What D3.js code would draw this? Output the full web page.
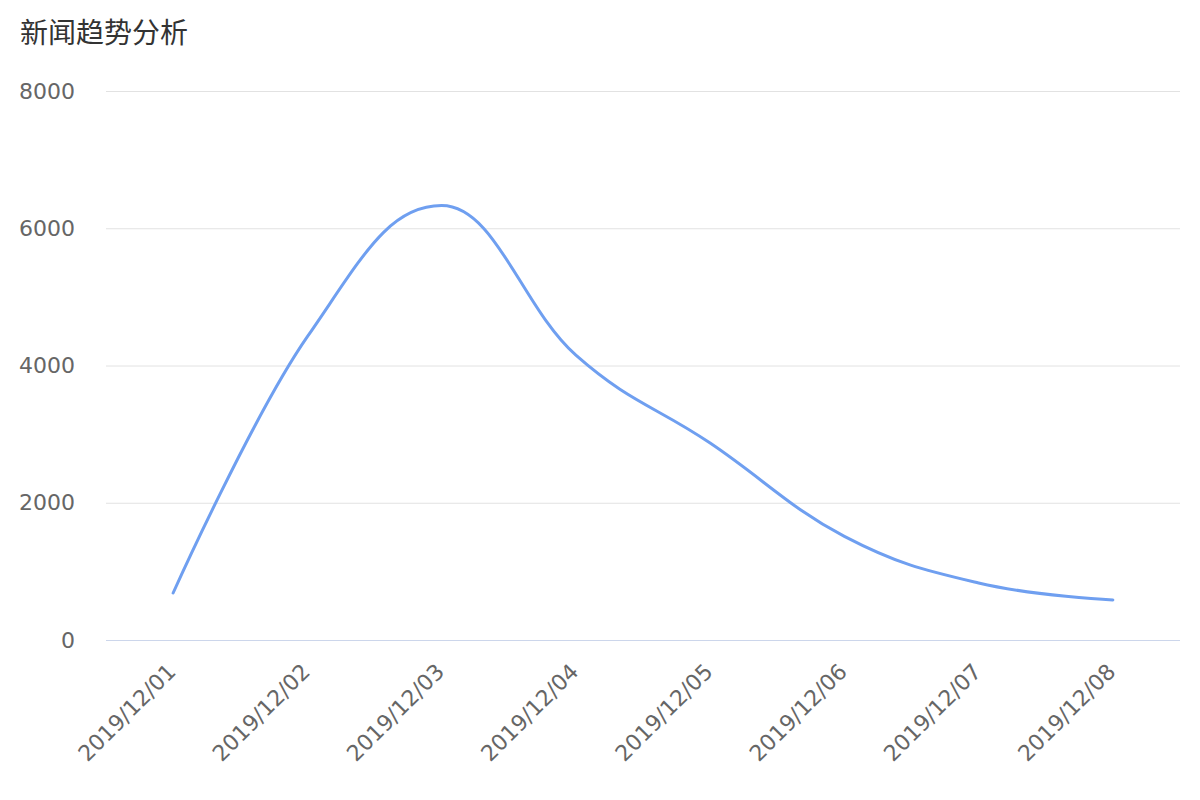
<!DOCTYPE html>
<html>
<head>
<meta charset="utf-8">
<script src="https://cdn.jsdelivr.net/npm/d3@7"></script>
<style>
  html, body { margin: 0; padding: 0; background: #ffffff; }
  svg { display: block; }
</style>
</head>
<body>
<svg id="chart" width="1200" height="800"></svg>
<script>
const titleText = "新闻趋势分析";
const categories = ["2019/12/01", "2019/12/02", "2019/12/03", "2019/12/04", "2019/12/05", "2019/12/06", "2019/12/07", "2019/12/08"];
const newsValues = [685, 4420, 6330, 4150, 2870, 1510, 830, 583];
const yTicks = [0, 2000, 4000, 6000, 8000];

const W = 1200, H = 800;
const margin = { left: 106, right: 20, top: 91, bottom: 160 };
const svg = d3.select("#chart");
const labelFont = "'DejaVu Sans', 'Noto Sans', sans-serif";

const x = d3.scaleBand().domain(categories).range([margin.left, W - margin.right]).padding(0);
const y = d3.scaleLinear().domain([0, 8000]).range([H - margin.bottom, margin.top]);

// Highcharts-like spline curve
function splineCurve(context) {
  let pts = [];
  return {
    areaStart() {}, areaEnd() {},
    lineStart() { pts = []; },
    point(px, py) { pts.push({ x: +px, y: +py }); },
    lineEnd() {
      const s = 1.5, den = s + 1;
      const n = pts.length;
      if (!n) return;
      context.moveTo(pts[0].x, pts[0].y);
      let prevRight = null;
      for (let i = 1; i < n; i++) {
        const p = pts[i], last = pts[i - 1], next = pts[i + 1];
        let lx, ly, rx, ry;
        if (next) {
          lx = (s * p.x + last.x) / den; ly = (s * p.y + last.y) / den;
          rx = (s * p.x + next.x) / den; ry = (s * p.y + next.y) / den;
          let corr = 0;
          if (rx !== lx) corr = ((ry - ly) * (rx - p.x)) / (rx - lx) + p.y - ry;
          ly += corr; ry += corr;
          if (ly > last.y && ly > p.y) { ly = Math.max(last.y, p.y); ry = 2 * p.y - ly; }
          else if (ly < last.y && ly < p.y) { ly = Math.min(last.y, p.y); ry = 2 * p.y - ly; }
          if (ry > next.y && ry > p.y) { ry = Math.max(next.y, p.y); ly = 2 * p.y - ry; }
          else if (ry < next.y && ry < p.y) { ry = Math.min(next.y, p.y); ly = 2 * p.y - ry; }
        } else { lx = p.x; ly = p.y; }
        const c1 = prevRight || [last.x, last.y];
        context.bezierCurveTo(c1[0], c1[1], lx, ly, p.x, p.y);
        prevRight = next ? [rx, ry] : null;
      }
    }
  };
}

// Title
svg.append("text")
  .attr("x", 20).attr("y", 43)
  .attr("font-family", "'Noto Sans CJK SC', 'Noto Sans', sans-serif")
  .attr("font-size", 28)
  .attr("fill", "#333333")
  .text(titleText);

// Grid lines + y labels
const yAxis = d3.axisLeft(y).tickValues(yTicks).tickSize(-(W - margin.left - margin.right)).tickPadding(31).tickFormat(d3.format("d"));
const gy = svg.append("g").attr("transform", `translate(${margin.left},0)`).call(yAxis);
gy.select(".domain").remove();
gy.selectAll(".tick line").attr("stroke", "#e2e2e2").attr("stroke-width", 1);
gy.selectAll(".tick text")
  .attr("fill", "#666666")
  .attr("font-family", labelFont)
  .attr("font-size", 22);

// X axis
const xAxis = d3.axisBottom(x).tickSize(0).tickPadding(0);
const gx = svg.append("g").attr("transform", `translate(0,${y(0)})`).call(xAxis);
gx.select(".domain").attr("stroke", "#ccd6eb").attr("stroke-width", 1).attr("d", `M${margin.left},0.5H${W - margin.right}`);
gx.selectAll(".tick text")
  .attr("fill", "#666666")
  .attr("font-family", labelFont)
  .attr("font-size", 22)
  .attr("text-anchor", "end")
  .attr("dy", null)
  .attr("y", null)
  .attr("transform", "translate(4,33) rotate(-45)");

// Line
const line = d3.line()
  .x((d, i) => x(categories[i]) + x.bandwidth() / 2)
  .y(d => y(d))
  .curve(splineCurve);

svg.append("path")
  .datum(newsValues)
  .attr("d", line)
  .attr("fill", "none")
  .attr("stroke", "#6f9ff0")
  .attr("stroke-width", 3)
  .attr("stroke-linecap", "round")
  .attr("stroke-linejoin", "round");
</script>
</body>
</html>
